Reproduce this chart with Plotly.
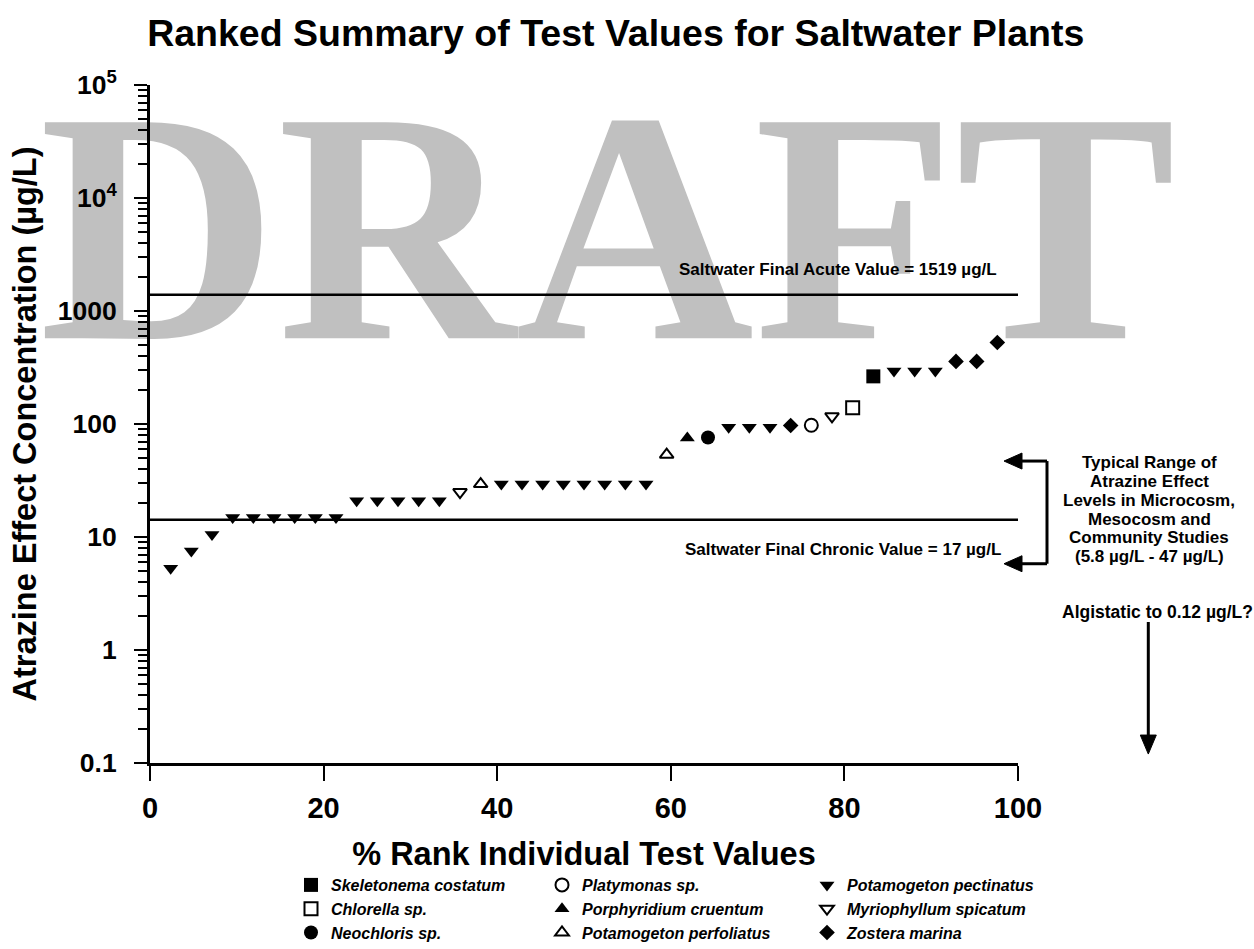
import math
import plotly.graph_objects as go

# ---------------- data ----------------
test_species = (
    ["Potamogeton pectinatus"] * 3
    + ["Potamogeton pectinatus"] * 6
    + ["Potamogeton pectinatus"] * 5
    + ["Myriophyllum spicatum", "Potamogeton perfoliatus"]
    + ["Potamogeton pectinatus"] * 8
    + ["Potamogeton perfoliatus", "Porphyridium cruentum", "Neochloris sp."]
    + ["Potamogeton pectinatus"] * 3
    + ["Zostera marina", "Platymonas sp.", "Myriophyllum spicatum", "Chlorella sp.",
       "Skeletonema costatum"]
    + ["Potamogeton pectinatus"] * 3
    + ["Zostera marina"] * 3
)
test_values = (
    [5.3, 7.5, 10.5]
    + [14.9] * 6
    + [20.9] * 5
    + [25.0, 29.4]
    + [29.4] * 8
    + [53.5, 75.0, 76.0]
    + [93.5] * 3
    + [97.0, 97.5, 117.0, 139.0, 264.0]
    + [294.0] * 3
    + [358.0, 358.0, 527.0]
)

legend_columns = [
    ["Skeletonema costatum", "Chlorella sp.", "Neochloris sp."],
    ["Platymonas sp.", "Porphyridium cruentum", "Potamogeton perfoliatus"],
    ["Potamogeton pectinatus", "Myriophyllum spicatum", "Zostera marina"],
]

acute_value = 1393.0      # where the Final Acute Value line is drawn
chronic_value = 14.2      # where the Final Chronic Value line is drawn
acute_label = "Saltwater Final Acute Value = 1519 µg/L"
chronic_label = "Saltwater Final Chronic Value = 17 µg/L"
range_low, range_high = 5.8, 47.0
algistatic_value = 0.12

y_tick_vals = [0.1, 1, 10, 100, 1000, 1e4, 1e5]
y_tick_text = ["0.1", "1", "10", "100", "1000", "10<sup>4</sup>", "10<sup>5</sup>"]
x_tick_vals = [0, 20, 40, 60, 80, 100]

range_text_lines = ["Typical Range of", "Atrazine Effect", "Levels in Microcosm,",
                    "Mesocosm and", "Community Studies", "(5.8 µg/L - 47 µg/L)"]
algistatic_text = "Algistatic to 0.12 µg/L?"

# ---------------- styles ----------------
symbols = {
    "Skeletonema costatum": ("square", 14),
    "Chlorella sp.": ("square-open", 13),
    "Neochloris sp.": ("circle", 14),
    "Platymonas sp.": ("circle-open", 13),
    "Porphyridium cruentum": ("triangle-up", 13),
    "Potamogeton perfoliatus": ("triangle-up-open", 12),
    "Potamogeton pectinatus": ("triangle-down", 13),
    "Myriophyllum spicatum": ("triangle-down-open", 12),
    "Zostera marina": ("diamond", 12),
}

FONT = "Liberation Sans, Arial, Helvetica, sans-serif"

# plot area in pixels
W, H = 1254, 949
L, R, T, B = 150, 236, 85, 186
PW, PH = W - L - R, H - T - B


def px_x(p):
    return (p - L) / PW


def px_y(p):
    return (H - B - p) / PH


def val_y(v):
    return (math.log10(v) + 1) / 6.0


N = len(test_values)
pct_rank = [100.0 * (i + 1) / (N + 1) for i in range(N)]

fig = go.Figure()

# DRAFT watermark (underneath everything)
fig.add_trace(go.Scatter(
    x=[52.7], y=[3080], mode="text", text=["DRAFT"],
    textposition="middle center",
    textfont=dict(family="Liberation Serif, Times New Roman, serif", size=330,
                  color="#c0c0c0", weight="bold"),
    cliponaxis=False, hoverinfo="skip", showlegend=False,
))

# reference lines
for v in (acute_value, chronic_value):
    fig.add_trace(go.Scatter(
        x=[0, 100], y=[v, v], mode="lines",
        line=dict(color="black", width=2.5),
        hoverinfo="skip", showlegend=False, cliponaxis=False,
    ))

# data, one trace per species, assigned to three legend columns
legend_ids = ["legend", "legend2", "legend3"]
for col, names in enumerate(legend_columns):
    for name in names:
        xs = [pct_rank[i] for i in range(N) if test_species[i] == name]
        ys = [test_values[i] for i in range(N) if test_species[i] == name]
        sym, size = symbols[name]
        fig.add_trace(go.Scatter(
            x=xs, y=ys, mode="markers", name=name,
            marker=dict(symbol=sym, size=size, color="black",
                        line=dict(color="black", width=2 if "open" in sym else 0)),
            legend=legend_ids[col], cliponaxis=False,
        ))

minor_vals = [m * 10 ** e for e in range(-1, 5) for m in range(2, 10)]

fig.update_layout(
    width=W, height=H, autosize=False,
    margin=dict(l=L, r=R, t=T, b=B, pad=0, autoexpand=False),
    paper_bgcolor="white", plot_bgcolor="white",
    font=dict(family=FONT, color="black"),
    title=dict(text="Ranked Summary of Test Values for Saltwater Plants",
               x=0.491, xanchor="center", y=1 - 33 / H, yanchor="middle",
               font=dict(size=37.5, weight="bold", family=FONT)),
    xaxis=dict(range=[0, 100], tickvals=x_tick_vals, ticks="outside", ticklen=15,
               tickwidth=2, tickcolor="black", showline=True, linewidth=3,
               linecolor="black", showgrid=False, zeroline=False,
               tickfont=dict(size=29, weight="bold"), ticklabelstandoff=2,
               title=dict(text="% Rank Individual Test Values", standoff=20,
                          font=dict(size=32.5, weight="bold"))),
    yaxis=dict(type="log", range=[-1, 5], tickvals=y_tick_vals, ticktext=y_tick_text,
               ticks="outside", ticklen=13, tickwidth=2, tickcolor="black",
               showline=True, linewidth=3, linecolor="black", showgrid=False,
               zeroline=False, tickfont=dict(size=26.5, weight="bold"),
               ticklabelstandoff=12,
               minor=dict(tickvals=minor_vals, ticks="outside", ticklen=9,
                          tickwidth=2, tickcolor="black", showgrid=False),
               title=dict(text="Atrazine Effect Concentration (µg/L)", standoff=12,
                          font=dict(size=32.5, weight="bold"))),
    showlegend=True,
)

legend_common = dict(orientation="v", xanchor="left", yanchor="top", y=px_y(868),
                     bgcolor="rgba(0,0,0,0)", borderwidth=0, itemwidth=30,
                     tracegroupgap=0,
                     font=dict(size=16, weight="bold", style="italic", family=FONT))
fig.update_layout(
    legend=dict(x=px_x(291), **legend_common),
    legend2=dict(x=px_x(542), **legend_common),
    legend3=dict(x=px_x(807), **legend_common),
)

annotations = [
    dict(text=acute_label, xref="paper", x=px_x(999), xanchor="right",
         yref="paper", y=val_y(acute_value), yshift=25, yanchor="middle",
         showarrow=False, font=dict(size=17, weight="bold")),
    dict(text=chronic_label, xref="paper", x=px_x(1003), xanchor="right",
         yref="paper", y=val_y(chronic_value), yshift=-30, yanchor="middle",
         showarrow=False, font=dict(size=17, weight="bold")),
    dict(text=algistatic_text, xref="paper", x=px_x(1157), xanchor="center",
         yref="paper", y=px_y(612), yanchor="middle",
         showarrow=False, font=dict(size=17.5, weight="bold")),
]
line_top = 462.3
line_step = 18.9
for k, t in enumerate(range_text_lines):
    annotations.append(dict(text=t, xref="paper", x=px_x(1149), xanchor="center",
                            yref="paper", y=px_y(line_top + k * line_step),
                            yanchor="middle", showarrow=False,
                            font=dict(size=17, weight="bold")))
fig.update_layout(annotations=annotations)

# bracket arrows and algistatic arrow (paper coordinates)
shapes = []
yh, yl = val_y(range_high), val_y(range_low)
xb = px_x(1047)
shapes.append(dict(type="line", xref="paper", yref="paper", x0=xb, x1=xb, y0=yh, y1=yl,
                   line=dict(color="black", width=3)))
for yy in (yh, yl):
    shapes.append(dict(type="line", xref="paper", yref="paper", x0=px_x(1019), x1=xb,
                       y0=yy, y1=yy, line=dict(color="black", width=3)))
    hx0, hx1 = px_x(1004), px_x(1022)
    dy = 8 / PH
    shapes.append(dict(type="path", xref="paper", yref="paper",
                       path=f"M {hx0},{yy} L {hx1},{yy + dy} L {hx1},{yy - dy} Z",
                       fillcolor="black", line=dict(color="black", width=1)))
xa = px_x(1148.3)
ytip = val_y(algistatic_value)
shapes.append(dict(type="line", xref="paper", yref="paper", x0=xa, x1=xa,
                   y0=px_y(622), y1=ytip + 16 / PH, line=dict(color="black", width=3)))
dx = 8 / PW
shapes.append(dict(type="path", xref="paper", yref="paper",
                   path=f"M {xa},{ytip} L {xa - dx},{ytip + 19 / PH} L {xa + dx},{ytip + 19 / PH} Z",
                   fillcolor="black", line=dict(color="black", width=1)))
fig.update_layout(shapes=shapes)

fig.write_html("out.html",
               config=dict(displayModeBar=False),
               post_script="document.body.style.margin='0';"
                           "document.body.style.overflow='hidden';")
